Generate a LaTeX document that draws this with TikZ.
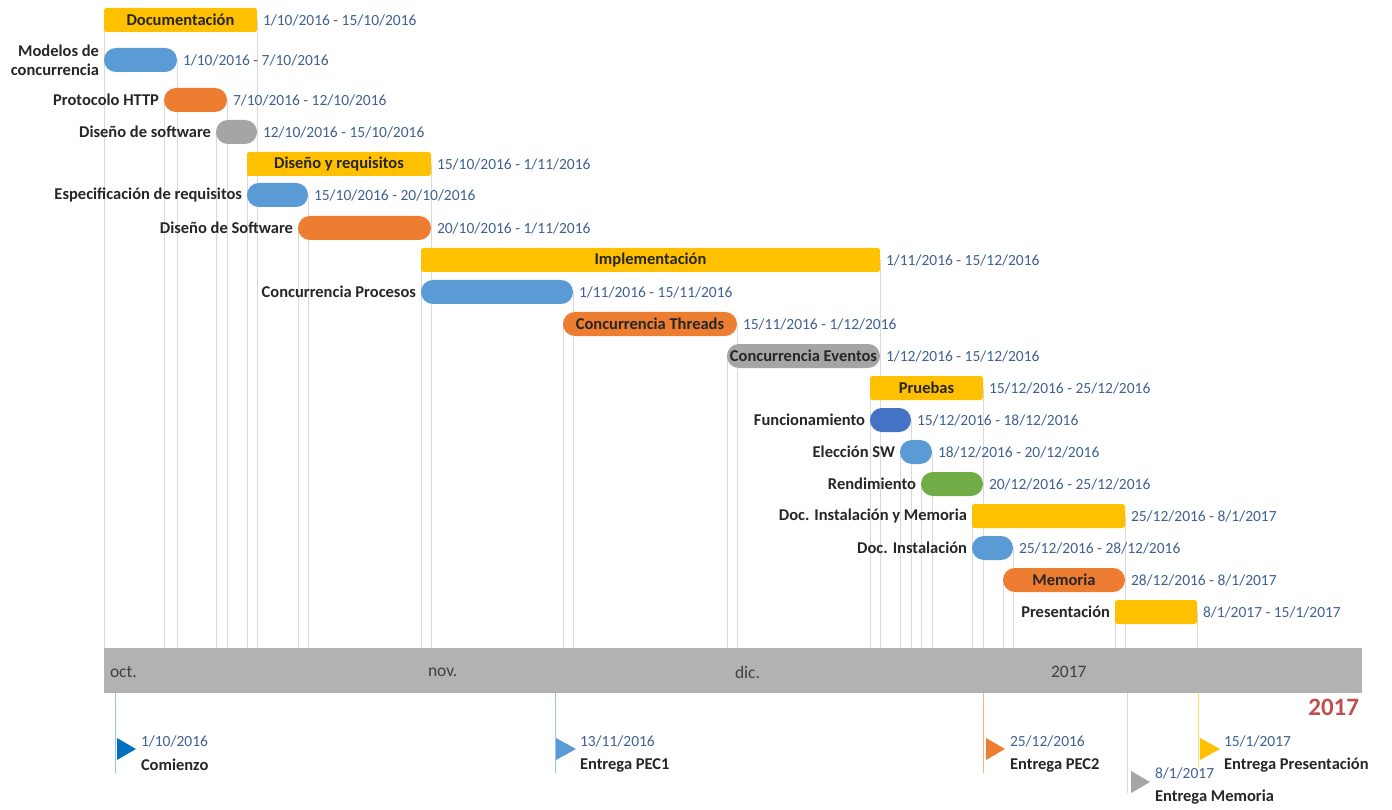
\documentclass[tikz,border=0pt]{standalone}
\usepackage{fontspec}
\setmainfont{Carlito}
\usetikzlibrary{backgrounds}

\definecolor{cYellow}{HTML}{FFC000}
\definecolor{cBlue}{HTML}{5B9BD5}
\definecolor{cDarkBlue}{HTML}{4472C4}
\definecolor{cDeepBlue}{HTML}{0070C0}
\definecolor{cOrange}{HTML}{ED7D31}
\definecolor{cGray}{HTML}{A5A5A5}
\definecolor{cGreen}{HTML}{70AD47}
\definecolor{cAxis}{HTML}{B2B2B2}
\definecolor{cGrid}{HTML}{D9D9D9}
\definecolor{cDate}{RGB}{64,96,146}
\definecolor{cText}{HTML}{262626}
\definecolor{cAxisText}{HTML}{404040}
\definecolor{cRed}{RGB}{192,80,77}
\definecolor{cLightBlue}{HTML}{9DC3E6}
\definecolor{cLightOrange}{HTML}{F4B183}
\definecolor{cLightYellow}{HTML}{FFD966}

\newcommand\lblfont{\fontsize{16.5}{19}\selectfont\bfseries}
\newcommand\datefont{\fontsize{15.5}{18}\selectfont}
\newcommand\axisfont{\fontsize{17.5}{20}\selectfont}

% one bar of the chart: name, style, start x, end x, centre y, text inside
\newcommand\gtask[6]{%
  \node[#2, minimum width={(#4)-(#3)}] (#1) at (#3,#5) {#6};}
% date range written right of a bar
\newcommand\gdate[2]{%
  \node[datetext, anchor=west] (#1-d) at ([xshift=6pt]#1.east) {#2};}
% task name written left of a bar
\newcommand\gname[2]{%
  \node[tasklabel, anchor=east, align=right] (#1-n) at ([xshift=-5pt]#1.west) {#2};}

\begin{document}
\begin{tikzpicture}[x=1pt,y=-1pt,
  every node/.style={inner sep=0pt, outer sep=0pt},
  barbase/.style={minimum height=24pt, anchor=west, text=cText, font=\lblfont},
  phase/.style={barbase, fill=cYellow, rounded corners=2.5pt},
  pill/.style={barbase, fill=#1, rounded corners=11.9pt},
  datetext/.style={text=cDate, font=\datefont},
  tasklabel/.style={text=cText, font=\lblfont},
  gridline/.style={draw=cGrid, line width=0.9pt},
  axislabel/.style={text=cAxisText, font=\axisfont, anchor=west},
  msline/.style={draw=#1, line width=0.9pt},
  mstip/.style={fill=#1},
]
\useasboundingbox (0,0) rectangle (1392,810);

% timeline band
\node[fill=cAxis, minimum width=1258pt, minimum height=45pt, anchor=north west] (axis) at (104,648) {};
\node[axislabel] (m-oct) at (110,672) {oct.};
\node[axislabel] (m-nov) at (428,672) {nov.};
\node[axislabel] (m-dic) at (735,672) {dic.};
\node[axislabel] (m-jan) at (1051,672) {2017};
\node[text=cRed, font=\fontsize{25}{28}\selectfont\bfseries, anchor=east] (year) at (1359,707) {2017};

% bars
\gtask{doc}{phase}{104}{257}{20}{Documentación}
\gdate{doc}{1/10/2016 - 15/10/2016}
\gtask{mod}{pill=cBlue}{104}{177}{60}{}
\gname{mod}{Modelos de\\concurrencia}
\gdate{mod}{1/10/2016 - 7/10/2016}
\gtask{http}{pill=cOrange}{164}{227}{100}{}
\gname{http}{Protocolo HTTP}
\gdate{http}{7/10/2016 - 12/10/2016}
\gtask{dsw}{pill=cGray}{216}{257}{132}{}
\gname{dsw}{Diseño de software}
\gdate{dsw}{12/10/2016 - 15/10/2016}
\gtask{dyr}{phase}{247}{431}{164}{Diseño y requisitos}
\gdate{dyr}{15/10/2016 - 1/11/2016}
\gtask{esp}{pill=cBlue}{247}{308}{195}{}
\gname{esp}{Especificación de requisitos}
\gdate{esp}{15/10/2016 - 20/10/2016}
\gtask{dss}{pill=cOrange}{298}{431}{228}{}
\gname{dss}{Diseño de Software}
\gdate{dss}{20/10/2016 - 1/11/2016}
\gtask{impl}{phase}{421}{880}{260}{Implementación}
\gdate{impl}{1/11/2016 - 15/12/2016}
\gtask{cpr}{pill=cBlue}{421}{573}{292}{}
\gname{cpr}{Concurrencia Procesos}
\gdate{cpr}{1/11/2016 - 15/11/2016}
\gtask{cth}{pill=cOrange}{563}{737}{324}{Concurrencia Threads}
\gdate{cth}{15/11/2016 - 1/12/2016}
\gtask{cev}{pill=cGray}{727}{880}{356}{Concurrencia Eventos}
\gdate{cev}{1/12/2016 - 15/12/2016}
\gtask{prb}{phase}{870}{983}{388}{Pruebas}
\gdate{prb}{15/12/2016 - 25/12/2016}
\gtask{fun}{pill=cDarkBlue}{870}{911}{420}{}
\gname{fun}{Funcionamiento}
\gdate{fun}{15/12/2016 - 18/12/2016}
\gtask{ele}{pill=cBlue}{900}{932}{452}{}
\gname{ele}{Elección SW}
\gdate{ele}{18/12/2016 - 20/12/2016}
\gtask{ren}{pill=cGreen}{921}{983}{484}{}
\gname{ren}{Rendimiento}
\gdate{ren}{20/12/2016 - 25/12/2016}
\gtask{dim}{phase}{972}{1125}{516}{}
\gname{dim}{Doc. Instalación y Memoria}
\gdate{dim}{25/12/2016 - 8/1/2017}
\gtask{din}{pill=cBlue}{972}{1013}{548}{}
\gname{din}{Doc. Instalación}
\gdate{din}{25/12/2016 - 28/12/2016}
\gtask{mem}{pill=cOrange}{1003}{1125}{580}{Memoria}
\gdate{mem}{28/12/2016 - 8/1/2017}
\gtask{pre}{phase}{1115}{1197}{612}{}
\gname{pre}{Presentación}
\gdate{pre}{8/1/2017 - 15/1/2017}

% guide lines from each bar end down to the band
\begin{pgfonlayer}{background}
\foreach \b in {doc,mod,http,dsw,dyr,esp,dss,impl,cpr,cth,cev,prb,fun,ele,ren,dim,din,mem,pre}{
  \draw[gridline] (\b.west) -- (\b.west |- axis.north)
                  (\b.east) -- (\b.east |- axis.north);
}
\end{pgfonlayer}

% milestones
\coordinate (ms1) at (115,773);
\coordinate (ms2) at (555,773);
\coordinate (ms3) at (983,773);
\coordinate (ms4) at (1127,793);
\coordinate (ms5) at (1198,767);
\draw[msline=cLightBlue] (ms1 |- axis.south) -- (ms1);
\draw[msline=cLightBlue] (ms2 |- axis.south) -- (ms2);
\draw[msline=cLightOrange] (ms3 |- axis.south) -- (ms3);
\draw[msline=cGrid] (ms4 |- axis.south) -- (ms4);
\draw[msline=cLightYellow] (ms5 |- axis.south) -- (ms5);

\fill[mstip=cDeepBlue] (117,738) -- (136,749) -- (117,760) -- cycle;
\fill[mstip=cBlue] (556,738) -- (576,749) -- (556,760) -- cycle;
\fill[mstip=cOrange] (986,738) -- (1005,749) -- (986,760) -- cycle;
\fill[mstip=cGray] (1131,771) -- (1150,782) -- (1131,793) -- cycle;
\fill[mstip=cYellow] (1200,738) -- (1220,749) -- (1200,760) -- cycle;

\node[datetext, anchor=west] (ms1-d) at (141,741) {1/10/2016};
\node[tasklabel, anchor=west] (ms1-n) at (141,765) {Comienzo};
\node[datetext, anchor=west] (ms2-d) at (580,741) {13/11/2016};
\node[tasklabel, anchor=west] (ms2-n) at (580,765) {Entrega PEC1};
\node[datetext, anchor=west] (ms3-d) at (1010,741) {25/12/2016};
\node[tasklabel, anchor=west] (ms3-n) at (1010,765) {Entrega PEC2};
\node[datetext, anchor=west] (ms4-d) at (1155,773) {8/1/2017};
\node[tasklabel, anchor=west] (ms4-n) at (1155,797) {Entrega Memoria};
\node[datetext, anchor=west] (ms5-d) at (1224,741) {15/1/2017};
\node[tasklabel, anchor=west] (ms5-n) at (1224,765) {Entrega Presentación};
\end{tikzpicture}
\end{document}
